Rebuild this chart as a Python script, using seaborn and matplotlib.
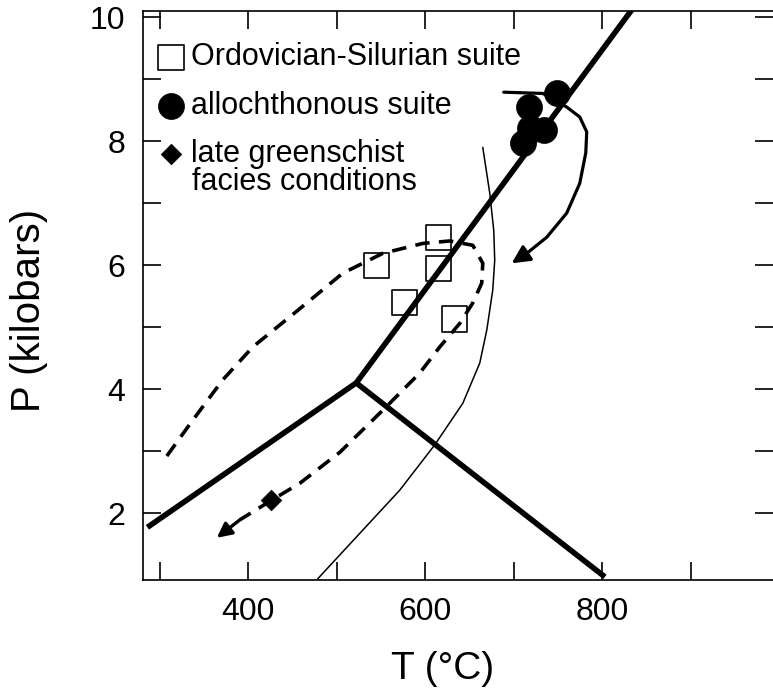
import numpy as np
import pandas as pd
import matplotlib
matplotlib.use("Agg")
import matplotlib.pyplot as plt
import seaborn as sns
from matplotlib.ticker import MultipleLocator, FixedLocator

# ---------------- data (T in °C, P in kbar) ----------------
# Al2SiO5 phase boundaries (thick lines meeting at the triple point)
ky_and_T = [286, 522]
ky_and_P = [1.77, 4.10]
ky_sil_T = [522, 835]
ky_sil_P = [4.10, 10.15]
and_sil_T = [522, 803]
and_sil_P = [4.10, 0.97]

# thin curve
thin_T = [665.0, 672.9, 677.4, 678.5, 676.3, 669.5, 661.6, 642.4, 610.7, 571.2, 478.5]
thin_P = [7.90, 7.16, 6.56, 6.08, 5.60, 4.95, 4.42, 3.77, 3.10, 2.37, 0.94]

# dashed P-T loop (ends with arrow tip)
loop_T = [307.9, 337.3, 371.2, 405.1, 455.9, 506.8, 552.0, 597.2, 627.7, 653.7,
          665.0, 663.8, 653.7, 639.0, 616.4, 593.8, 554.2, 503.4, 458.2, 426.6,
          390.4, 364.4]
loop_P = [2.92, 3.50, 4.15, 4.68, 5.27, 5.87, 6.19, 6.35, 6.39, 6.32,
          6.03, 5.71, 5.39, 5.06, 4.68, 4.26, 3.69, 2.98, 2.48, 2.21,
          1.89, 1.60]

# solid curved arrow path from the allochthonous suite
arrow_T = [688.7, 732.8, 759.9, 774.6, 782.5, 781.4, 774.6, 759.9, 737.3, 714.7, 697.7]
arrow_P = [8.79, 8.77, 8.55, 8.39, 8.15, 7.81, 7.32, 6.84, 6.45, 6.19, 6.03]

# samples
ord_T = [545.2, 615.3, 615.3, 576.8, 633.3]
ord_P = [6.00, 6.45, 5.95, 5.40, 5.13]
allo_T = [748.6, 717.0, 718.0, 734.0, 710.0]
allo_P = [8.77, 8.55, 8.21, 8.18, 7.97]
green_T = [426.0]
green_P = [2.21]

labels = ["Ordovician-Silurian suite", "allochthonous suite", "late greenschist"]
label_extra = "facies conditions"

x_major = [400, 600, 800]
y_major = [2, 4, 6, 8, 10]

# ---------------- figure ----------------
sns.set_theme(style="ticks")
plt.rcParams['font.family'] = ['Liberation Sans', 'DejaVu Sans']
plt.rcParams['axes.linewidth'] = 1.2

fig = plt.figure(figsize=(7.73, 6.91), dpi=100)
ax = fig.add_axes([143 / 773, 1 - 580 / 691, 630 / 773, 569 / 691])

# points
sns.scatterplot(x=ord_T, y=ord_P, marker='s', s=330, facecolors='none',
                edgecolor='black', linewidth=1.2, label=labels[0], ax=ax, zorder=2)
sns.scatterplot(x=allo_T, y=allo_P, marker='o', s=350, color='black',
                edgecolor='black', linewidth=0.5, label=labels[1], ax=ax, zorder=4)
sns.scatterplot(x=green_T, y=green_P, marker='D', s=110, color='black',
                edgecolor='black', linewidth=0.5, label=labels[2], ax=ax, zorder=4)

# thick phase boundaries
for tx, py in [(ky_and_T, ky_and_P), (ky_sil_T, ky_sil_P), (and_sil_T, and_sil_P)]:
    sns.lineplot(x=tx, y=py, sort=False, estimator=None, color='black',
                 linewidth=4.0, solid_capstyle='butt', ax=ax, zorder=3)

# thin curve
sns.lineplot(x=thin_T, y=thin_P, sort=False, estimator=None, color='black',
             linewidth=1.1, ax=ax, zorder=3)

# dashed loop
sns.lineplot(x=loop_T[:-1], y=loop_P[:-1], sort=False, estimator=None, color='black',
             linewidth=2.6, linestyle=(0, (4.0, 2.6)), ax=ax, zorder=3)
ax.annotate("", xy=(loop_T[-1], loop_P[-1]), xytext=(loop_T[-2], loop_P[-2]),
            arrowprops=dict(arrowstyle='-|>', color='black', lw=2.4,
                            mutation_scale=22, shrinkA=0, shrinkB=0), zorder=3)

# solid arrow
sns.lineplot(x=arrow_T[:-1], y=arrow_P[:-1], sort=False, estimator=None, color='black',
             linewidth=2.3, ax=ax, zorder=5)
ax.annotate("", xy=(arrow_T[-1], arrow_P[-1]), xytext=(arrow_T[-2], arrow_P[-2]),
            arrowprops=dict(arrowstyle='-|>', color='black', lw=2.3,
                            mutation_scale=27, shrinkA=0, shrinkB=0), zorder=5)

# axes
ax.set_xlim(281, 993)
ax.set_ylim(0.92, 10.10)
ax.xaxis.set_major_locator(FixedLocator(x_major))
ax.xaxis.set_minor_locator(MultipleLocator(100))
ax.yaxis.set_major_locator(FixedLocator(y_major))
ax.yaxis.set_minor_locator(FixedLocator([3, 5, 7, 9]))
ax.tick_params(which='both', direction='in', length=13, width=1.2,
               top=True, right=True, colors='black')
ax.tick_params(axis='x', which='major', labelsize=23, pad=12)
ax.tick_params(axis='y', which='major', labelsize=23, pad=13)
for t in ax.yaxis.get_major_ticks():
    if t.get_loc() == 10:
        t.tick1line.set_visible(False)
        t.tick2line.set_visible(False)
ax.spines['right'].set_visible(False)
for s in ['left', 'top', 'bottom']:
    ax.spines[s].set_color('black')

ax.set_xlabel("T (°C)", fontsize=28, color='black')
ax.set_ylabel("P (kilobars)", fontsize=29, color='black')
ax.xaxis.set_label_coords(0.475, -0.1248)
ax.yaxis.set_label_coords(-0.151, 0.4745)

leg = ax.legend(loc='upper left', bbox_to_anchor=(0.025, 0.945), frameon=False,
                fontsize=22, handlelength=0.8, handletextpad=0.24,
                labelspacing=0.6, borderpad=0, borderaxespad=0)
for t in leg.get_texts():
    t.set_color('black')
ax.text(0.0778, 0.6854, label_extra, transform=ax.transAxes, fontsize=22,
        va='baseline', ha='left', color='black')

fig.savefig("out.png", dpi=100)
